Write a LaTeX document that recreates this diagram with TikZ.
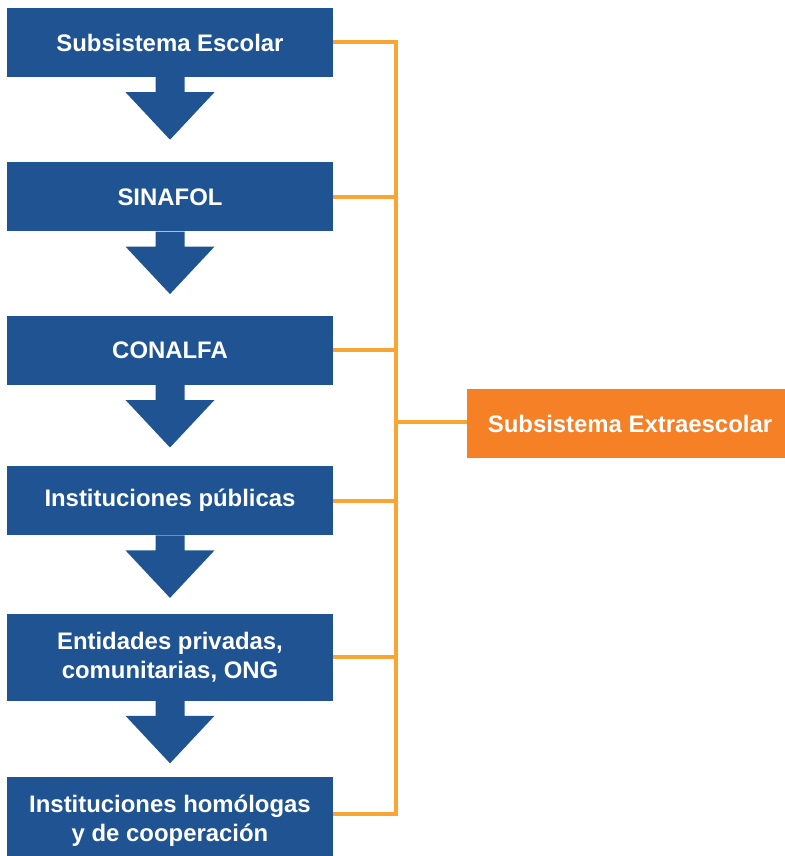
\documentclass[tikz,border=0pt]{standalone}
\usepackage{fontspec}
\setmainfont{Liberation Sans}
\usetikzlibrary{positioning}

\definecolor{boxblue}{HTML}{1F5391}
\definecolor{extorange}{HTML}{F68026}
\definecolor{linkorange}{HTML}{F9A533}

\begin{document}
\begin{tikzpicture}[x=1pt,y=-1pt,
  stage/.style={rectangle,fill=boxblue,text=white,align=center,inner sep=0pt,
    font=\fontsize{23.9}{29}\selectfont\bfseries,minimum width=326pt,minimum height=69pt},
  tall/.style={minimum height=87pt},
  extbox/.style={stage,fill=extorange},
  flow/.style={fill=boxblue},
  link/.style={draw=linkorange,line width=4pt}]
\useasboundingbox (0,0) rectangle (784,856);

% Nodes
\node[stage] (b1) at (170,42.5) {Subsistema Escolar};
\node[stage,below=85pt of b1] (b2) {SINAFOL};
\node[stage,below=84pt of b2] (b3) {CONALFA};
\node[stage,below=81pt of b3] (b4) {Instituciones públicas};
\node[stage,tall,below=78pt of b4] (b5) {Entidades privadas,\\comunitarias, ONG};
\node[stage,tall,below=76pt of b5] (b6) {Instituciones homólogas\\y de cooperación};

\node[extbox] (ext) at (630,423.5) {Subsistema Extraescolar};

%arrows
\foreach \from in {b1,b2,b3,b4,b5}
  \fill[flow] (\from.south) ++(-14.5,0) -- ++(0,15) -- ++(-30,0) -- ++(44.5,47.5)
    -- ++(44.5,-47.5) -- ++(-30,0) -- ++(0,-15) -- cycle;

%links
\coordinate (spine) at (396,41.5);
\draw[link] (b1.east) -- (b1.east -| spine) -- ([yshift=6.5pt]b6.east -| spine) -- ([yshift=6.5pt]b6.east);
\foreach \n in {b2,b3,b4,b5}
  \draw[link] (\n.east) -- (\n.east -| spine);
\draw[link] ([yshift=1.5pt]ext.west) -- ([yshift=1.5pt]ext.west -| spine);

\end{tikzpicture}
\end{document}
